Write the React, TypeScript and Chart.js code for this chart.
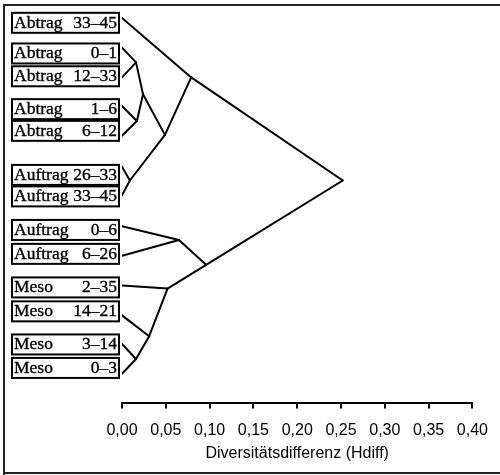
import React, { useEffect, useRef } from "react";
import { Chart, registerables } from "chart.js";

Chart.register(...registerables);

// Leaves (top to bottom)
const leafNames = ["Abtrag", "Abtrag", "Abtrag", "Abtrag", "Abtrag", "Auftrag", "Auftrag", "Auftrag", "Auftrag", "Meso", "Meso", "Meso", "Meso"];
const leafRanges = ["33–45", "0–1", "12–33", "1–6", "6–12", "26–33", "33–45", "0–6", "6–26", "2–35", "14–21", "3–14", "0–3"];
// row position of each label box (centre) and of the branch attachment
const leafBoxRows = [1.02, 2.39, 3.41, 4.88, 5.85, 7.82, 8.78, 10.28, 11.35, 12.85, 13.92, 15.4, 16.45];
const leafAttachRows = [0.8, 2.13, 3.46, 4.74, 6.07, 7.45, 8.73, 10.11, 11.44, 12.77, 14.1, 15.38, 16.71];

// Internal nodes: merge distance (Hdiff), row position, children
const nodeNames = ["A", "B", "C", "E", "D", "F", "G", "K", "J", "I", "H", "R"];
const nodeHdiff = [0.016, 0.017, 0.024, 0.009, 0.049, 0.079, 0.065, 0.016, 0.031, 0.052, 0.096, 0.252];
const nodeRows = [2.79, 5.41, 4.21, 8.07, 6.03, 3.46, 10.73, 16.05, 15.03, 12.9, 11.84, 8.07];
const nodeChildren = [
  ["L1", "L2"],
  ["L3", "L4"],
  ["A", "B"],
  ["L5", "L6"],
  ["C", "E"],
  ["L0", "D"],
  ["L7", "L8"],
  ["L11", "L12"],
  ["L10", "K"],
  ["L9", "J"],
  ["G", "I"],
  ["F", "H"],
];

const xTicksMax = 0.4;
const xStep = 0.05;
const xTitle = "Diversitätsdifferenz (Hdiff)";

function pointOf(id: string) {
  if (id.startsWith("L")) {
    const i = parseInt(id.slice(1), 10);
    return { x: 0, y: leafAttachRows[i] };
  }
  const j = nodeNames.indexOf(id);
  return { x: nodeHdiff[j], y: nodeRows[j] };
}

export default function App() {
  const ref = useRef<HTMLCanvasElement | null>(null);

  useEffect(() => {
    const canvas = ref.current;
    if (!canvas) return;
    const datasets: any[] = [];
    nodeChildren.forEach((kids, j) => {
      const p = { x: nodeHdiff[j], y: nodeRows[j] };
      kids.forEach((k) => {
        datasets.push({
          data: [pointOf(k), p],
          showLine: true,
          borderColor: "#000",
          borderWidth: 2,
          pointRadius: 0,
          borderCapStyle: "round",
        });
      });
    });

    const decor = {
      id: "decor",
      afterDraw(chart: any) {
        const ctx = chart.ctx;
        const xs = chart.scales.x;
        const ys = chart.scales.y;
        ctx.save();
        // frame
        ctx.strokeStyle = "#222";
        ctx.lineWidth = 2;
        ctx.beginPath();
        ctx.moveTo(4, 475);
        ctx.lineTo(4, 5);
        ctx.lineTo(500, 5);
        ctx.moveTo(4, 473);
        ctx.lineTo(500, 473);
        ctx.stroke();
        // label boxes
        const right = xs.getPixelForValue(0) - 3;
        const left = 12;
        const h = 20;
        ctx.strokeStyle = "#000";
        ctx.fillStyle = "#000";
        ctx.font = '17.5px "Liberation Serif"';
        ctx.textBaseline = "alphabetic";
        leafNames.forEach((name, i) => {
          const cy = ys.getPixelForValue(leafBoxRows[i]);
          ctx.lineWidth = 2;
          ctx.strokeRect(left, cy - h / 2, right - left, h);
          ctx.lineWidth = 0.35;
          ctx.textAlign = "left";
          ctx.fillText(name, left + 2, cy + 5);
          ctx.strokeText(name, left + 2, cy + 5);
          ctx.textAlign = "right";
          ctx.fillText(leafRanges[i], right - 2, cy + 5);
          ctx.strokeText(leafRanges[i], right - 2, cy + 5);
        });
        ctx.restore();
      },
    };

    const chart = new Chart(canvas, {
      type: "scatter",
      data: { datasets },
      options: {
        animation: false,
        responsive: false,
        devicePixelRatio: 1,
        layout: { padding: { left: 122, right: 27, top: 0, bottom: 8 } },
        plugins: { legend: { display: false }, tooltip: { enabled: false } },
        scales: {
          x: {
            type: "linear",
            min: 0,
            max: xTicksMax,
            ticks: {
              stepSize: xStep,
              color: "#000",
              padding: 12,
              font: { family: '"Liberation Sans"', size: 16 },
              callback: (v: any) => Number(v).toFixed(2).replace(".", ","),
            },
            grid: {
              drawOnChartArea: false,
              drawTicks: true,
              tickLength: 6,
              color: "#000",
              lineWidth: 2,
            },
            border: { display: true, color: "#000", width: 2 },
            title: {
              display: true,
              text: xTitle,
              color: "#000",
              font: { family: '"Liberation Sans"', size: 16 },
              padding: { top: -8, bottom: 4 },
            },
          },
          y: {
            type: "linear",
            reverse: true,
            min: 0,
            max: 18,
            display: false,
          },
        },
      },
      plugins: [decor],
    });
    return () => chart.destroy();
  }, []);

  return (
    <div style={{ position: "fixed", left: 0, top: 0, width: 500, height: 475, background: "#fff" }}>
      <canvas ref={ref} width={500} height={475} />
    </div>
  );
}
